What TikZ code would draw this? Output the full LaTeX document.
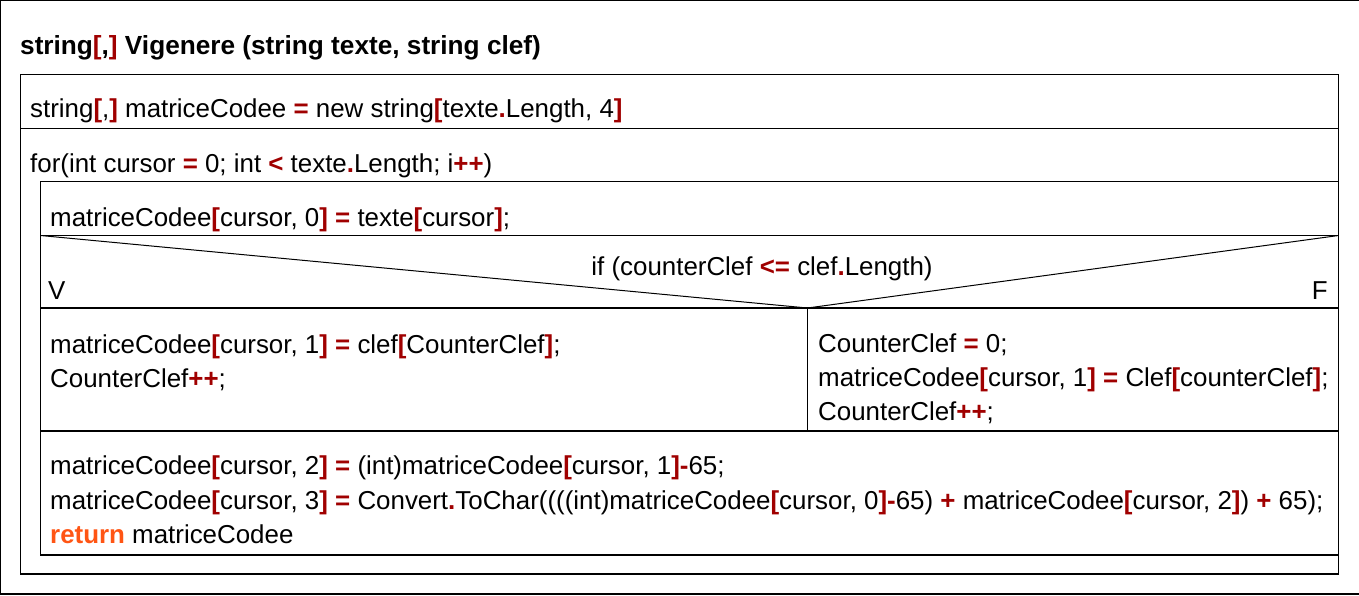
\documentclass[tikz,border=0pt]{standalone}
\usepackage{fontspec}
\setmainfont{Liberation Sans}
\definecolor{kred}{RGB}{160,0,0}
\definecolor{korange}{RGB}{255,85,20}
\newcommand\rd[1]{\textcolor{kred}{\textbf{#1}}}
\newcommand\kwd[1]{\textcolor{korange}{\textbf{#1}}}
\begin{document}
\begin{tikzpicture}[x=1pt,y=-1pt,
  frame/.style={draw=black,line width=1.3pt},
  txt/.style={anchor=base west,inner sep=0pt,font=\fontsize{25.9}{30}\selectfont},
  ttl/.style={anchor=base west,inner sep=0pt,font=\fontsize{26.2}{30}\selectfont\bfseries}]
\useasboundingbox (0,0) rectangle (1359,595);
\fill[white] (0,0) rectangle (1359,595);
% outer frame (right edge falls outside the picture)
\draw[frame] (0.7,0.7) rectangle (1362,594);
% title
\node[ttl] (title) at (20,54) {string\rd{[},\rd{]} Vigenere (string texte, string clef)};
% main frame
\coordinate (mTL) at (20.5,74.5);
\coordinate (mBR) at (1338.5,574);
\draw[frame] (mTL) rectangle (mBR);
\draw[frame] (20.5,128.5) -- (1338.5,128.5);
\node[txt] (decl) at (30,117) {string\rd{[},\rd{]} matriceCodee \rd{=} new string\rd{[}texte\rd{.}Length, 4\rd{]}};
\node[txt] (for) at (30,172) {for(int cursor \rd{=} 0; int \rd{<} texte\rd{.}Length; i\rd{++})};
% loop body
\draw[frame] (40.5,181.5) rectangle (1338.5,555);
\draw[frame] (40.5,235.5) -- (1338.5,235.5);
\node[txt] (s0) at (50,226) {matriceCodee\rd{[}cursor, 0\rd{]} \rd{=} texte\rd{[}cursor\rd{]};};
% if
\coordinate (apex) at (807.5,308);
\draw[frame,line width=1pt] (40.5,235.5) -- (apex) -- (1338.5,235.5);
\draw[frame] (40.5,308) -- (1338.5,308);
\node[txt,anchor=base] (cond) at (762,275) {if (counterClef \rd{<=} clef\rd{.}Length)};
\node[txt] (V) at (48,299) {V};
\node[txt,anchor=base east] (F) at (1328,299) {F};
% branches
\draw[frame] (apex) -- (807.5,431);
\draw[frame] (40.5,431) -- (1338.5,431);
\node[txt] (l1) at (50,353) {matriceCodee\rd{[}cursor, 1\rd{]} \rd{=} clef\rd{[}CounterClef\rd{]};};
\node[txt] (l2) at (50,387) {CounterClef\rd{++};};
\node[txt] (r1) at (818,352) {CounterClef \rd{=} 0;};
\node[txt] (r2) at (818,386) {matriceCodee\rd{[}cursor, 1\rd{]} \rd{=} Clef\rd{[}counterClef\rd{]};};
\node[txt] (r3) at (818,420) {CounterClef\rd{++};};
% final block
\node[txt] (f1) at (50,474) {matriceCodee\rd{[}cursor, 2\rd{]} \rd{=} (int)matriceCodee\rd{[}cursor, 1\rd{]}\rd{-}65;};
\node[txt] (f2) at (50,509) {matriceCodee\rd{[}cursor, 3\rd{]} \rd{=} Convert\rd{.}ToChar((((int)matriceCodee\rd{[}cursor, 0\rd{]}\rd{-}65) \rd{+} matriceCodee\rd{[}cursor, 2\rd{]}) \rd{+} 65);};
\node[txt] (f3) at (50,543) {\kwd{return} matriceCodee};
\end{tikzpicture}
\end{document}
